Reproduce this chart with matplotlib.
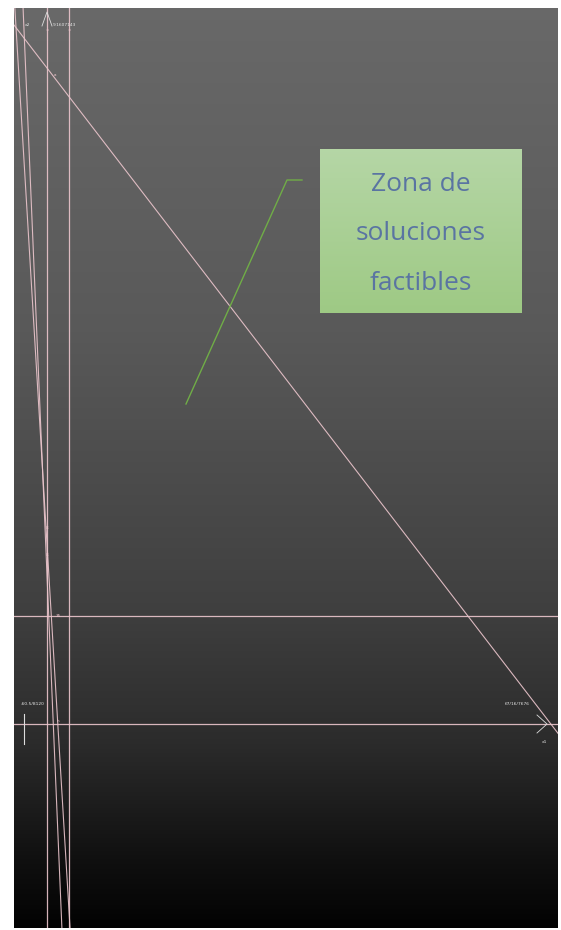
import numpy as np
import matplotlib.pyplot as plt
from matplotlib.lines import Line2D

# constraint lines, drawn as x2 = m * x1 + b
slopes = [-1.302, -16.67, -23.7]
intercepts = [65.6, 18.0, 14.9]
vertical_lines = [0.0, 2.2]       # x1 = const
horizontal_lines = [0.0, 10.8]    # x2 = const

point_labels = ["x2", "9.1607143", "-60.5/8120", "67/16/7676", "x1"]
box_lines = ["Zona de", "soluciones", "factibles"]

W, H = 561, 930
fig = plt.figure(figsize=(W / 100, H / 100), dpi=100)
fig.patch.set_facecolor("white")

ax = fig.add_axes([14 / W, 2 / H, 544 / W, 920 / H])
xmin, xmax, ymin, ymax = -3.3, 51.1, -20.4, 71.6
ax.set_xlim(xmin, xmax)
ax.set_ylim(ymin, ymax)
ax.axis("off")

# dark vertical gradient background
stops = [0.0, 0.35, 0.65, 0.8, 0.93, 1.0]
grays = [0.41, 0.35, 0.25, 0.17, 0.06, 0.01]
t = np.linspace(0, 1, 400)
g = np.interp(t, stops, grays)
bg = np.repeat(g[:, None], 2, axis=1)
ax.imshow(np.dstack([bg, bg, bg]), extent=[xmin, xmax, ymin, ymax],
          aspect="auto", zorder=0, origin="upper")

pink = "#ecc6cd"
xs = np.array([xmin, xmax])
for m, b in zip(slopes, intercepts):
    ax.plot(xs, m * xs + b, color=pink, lw=0.8, alpha=0.9, zorder=2)
for v in vertical_lines:
    ax.axvline(v, color=pink, lw=0.9, alpha=0.9, zorder=2)
for h in horizontal_lines:
    ax.axhline(h, color=pink, lw=0.9, alpha=0.9, zorder=2)

# axis arrows and little marks
ax.plot([-0.5, 0, 0.5], [69.8, 71.2, 69.8], color="#dddddd", lw=0.6, zorder=3)
ax.plot([49.0, 50.0, 49.0], [-0.9, 0, 0.9], color="#dddddd", lw=0.6, zorder=3)
ax.plot([-2.3, -2.3], [-2.0, 1.0], color="#dddddd", lw=0.8, zorder=3)

lab = dict(color="#e6e6e6", fontsize=3.2, zorder=4)
ax.text(-2.2, 69.9, point_labels[0], ha="left", va="center", **lab)
ax.text(0.6, 69.9, point_labels[1], ha="left", va="center", **lab)
ax.text(-2.6, 2.0, point_labels[2], ha="left", va="center", **lab)
ax.text(45.8, 2.0, point_labels[3], ha="left", va="center", **lab)
ax.text(49.5, -1.8, point_labels[4], ha="left", va="center", **lab)
for x, y, s in [(0, 69.4, "="), (2.2, 69.4, "="), (0.8, 64.9, "a"),
                (0, 19.6, "8"), (0, 16.9, "8"), (1.1, 10.8, "35"), (1.1, 0.3, "h")]:
    ax.text(x, y, s, ha="center", va="center", color="#f2c8d0", fontsize=3, zorder=4)

# callout line
cx = np.array([186, 287, 302]) / W
cy = 1 - np.array([404, 180, 180]) / H
fig.add_artist(Line2D(cx, cy, color="#70ad47", lw=1.0, transform=fig.transFigure))

# green text box
bx = fig.add_axes([320 / W, (H - 313) / H, 202 / W, 164 / H])
bx.axis("off")
gt = np.linspace(0, 1, 100)[:, None]
top = np.array([0.71, 0.84, 0.65])
bot = np.array([0.62, 0.79, 0.52])
grad = top[None, None, :] * (1 - gt[:, :, None]) + bot[None, None, :] * gt[:, :, None]
bx.imshow(np.repeat(grad, 2, axis=1), extent=[0, 1, 0, 1], aspect="auto")
bx.set_xlim(0, 1)
bx.set_ylim(0, 1)
for i, s in enumerate(box_lines):
    bx.text(0.5, 0.785 - i * 0.303, s, ha="center", va="center",
            color="#5a74a2", fontsize=19, family="Open Sans")

fig.savefig("out.png", dpi=100)
